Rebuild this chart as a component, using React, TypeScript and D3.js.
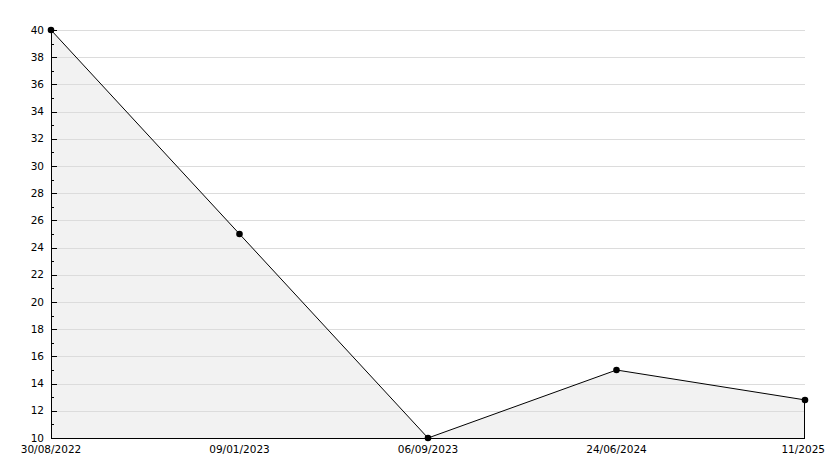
import React from "react";
import * as d3 from "d3";

const categories = ["30/08/2022", "09/01/2023", "06/09/2023", "24/06/2024", "11/2025"];
const values = [40, 25, 10, 15, 12.8];
const yTicks = [10, 12, 14, 16, 18, 20, 22, 24, 26, 28, 30, 32, 34, 36, 38, 40];
const yMinorTicks = [11, 13, 15, 17, 19, 21, 23, 25, 27, 29, 31, 33, 35, 37, 39];

const W = 834, H = 468;
const left = 51, right = 805, top = 30, bottom = 438;

export default function App() {
  const x = d3.scalePoint<string>().domain(categories).range([left, right]);
  const y = d3.scaleLinear().domain([10, 40]).range([bottom, top]);
  const pts: [number, number][] = categories.map((c, i) => [x(c)!, y(values[i])]);
  const area = d3.area<[number, number]>().x(d => d[0]).y0(bottom).y1(d => d[1])(pts)!;
  const line = d3.line<[number, number]>().x(d => d[0]).y(d => d[1])(pts)!;
  const last = pts[pts.length - 1];
  const marker = d3.symbol().type(d3.symbolCircle).size(34)()!;
  return (
    <svg width={W} height={H} style={{ position: "absolute", left: 0, top: 0 }} fontFamily="DejaVu Sans" fontSize={10.5}>
      <rect x={0} y={0} width={W} height={H} fill="#fff" />
      <path d={area} fill="#f2f2f2" />
      {yTicks.filter(t => t > 10).map(t => (
        <line key={t} x1={left} x2={right} y1={Math.round(y(t)) + 0.5} y2={Math.round(y(t)) + 0.5} stroke="#dcdcdc" />
      ))}
      <path d={line} fill="none" stroke="#000" strokeWidth={1} />
      <line x1={last[0] - 0.5} x2={last[0] - 0.5} y1={last[1]} y2={bottom} stroke="#000" />
      <line x1={left + 0.5} x2={left + 0.5} y1={top} y2={bottom} stroke="#000" />
      <line x1={left} x2={right} y1={bottom + 0.5} y2={bottom + 0.5} stroke="#000" />
      {yTicks.map(t => (
        <g key={t}>
          <line x1={left} x2={left + 6} y1={Math.round(y(t)) + 0.5} y2={Math.round(y(t)) + 0.5} stroke="#000" />
          <text x={44} y={y(t)} dy="0.35em" textAnchor="end" fill="#000">{t}</text>
        </g>
      ))}
      {yMinorTicks.map(t => (
        <line key={t} x1={left} x2={left + 3} y1={Math.round(y(t)) + 0.5} y2={Math.round(y(t)) + 0.5} stroke="#000" />
      ))}
      {pts.map((p, i) => (
        <g key={i}>
          <path d={marker} transform={`translate(${p[0]},${p[1]})`} fill="#000" />
          <text x={i === pts.length - 1 ? 825 : p[0]} y={453} textAnchor={i === pts.length - 1 ? "end" : "middle"} fill="#000">{categories[i]}</text>
        </g>
      ))}
    </svg>
  );
}
